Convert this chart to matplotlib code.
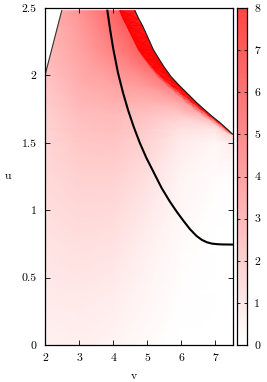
import numpy as np
import matplotlib
matplotlib.use("Agg")
import matplotlib.pyplot as plt
import matplotlib.tri as mtri
from matplotlib.colors import LinearSegmentedColormap, Normalize

plt.rcParams['font.family'] = ['cmr10', 'DejaVu Serif']
plt.rcParams['axes.formatter.use_mathtext'] = True

# ---------------- data ----------------
# smooth part of the heat map, sampled on rows of constant u
row_u = [2.48, 2.37, 2.19, 2.06, 1.92, 1.80, 1.70, 1.60, 1.565, 1.50, 1.25, 1.00, 0.75, 0.50, 0.25, 0.0]
row_v = [
    [2.49, 3.0, 3.5, 3.9, 4.2, 4.64],
    [2.377, 3.0, 3.5, 4.0, 4.4, 4.86],
    [2.194, 3.0, 3.5, 4.0, 4.5, 4.78, 5.18],
    [2.061, 3.0, 3.5, 4.0, 4.5, 5.1, 5.50],
    [2.0, 3.0, 4.0, 4.5, 5.0, 5.5, 5.96],
    [2.0, 3.0, 4.0, 5.0, 5.8, 6.44],
    [2.0, 3.0, 4.0, 5.0, 6.0, 6.885],
    [2.0, 3.0, 4.0, 5.0, 6.0, 7.0, 7.35],
    [2.0, 3.0, 4.0, 5.0, 6.0, 7.0, 7.5],
    [2.0, 3.0, 4.0, 5.0, 6.0, 7.0, 7.5],
    [2.0, 3.0, 4.0, 5.0, 6.0, 7.0, 7.5],
    [2.0, 3.0, 4.0, 5.0, 6.0, 7.0, 7.5],
    [2.0, 3.0, 4.0, 5.0, 6.0, 7.0, 7.5],
    [2.0, 3.0, 4.0, 5.0, 6.0, 7.0, 7.5],
    [2.0, 3.0, 4.0, 5.0, 6.0, 7.0, 7.5],
    [2.0, 3.0, 4.0, 5.0, 6.0, 7.0, 7.5],
]
row_val = [
    [3.8, 4.6, 5.6, 6.4, 7.0, 7.5],
    [3.5, 4.3, 5.2, 6.2, 7.0, 7.5],
    [3.1, 4.0, 4.7, 5.4, 6.2, 6.8, 7.5],
    [2.8, 3.7, 4.2, 4.7, 5.2, 6.3, 7.0],
    [2.4, 3.4, 3.9, 4.1, 4.4, 5.2, 6.0],
    [2.2, 3.1, 3.4, 3.3, 3.6, 5.0],
    [2.0, 2.8, 3.0, 2.6, 2.2, 3.5],
    [1.9, 2.6, 2.8, 2.2, 1.3, 1.2, 2.5],
    [1.85, 2.5, 2.7, 2.1, 1.1, 0.9, 2.0],
    [1.8, 2.4, 2.5, 1.9, 0.9, 0.4, 0.8],
    [1.6, 2.0, 2.0, 1.4, 0.5, 0.15, 0.15],
    [1.4, 1.7, 1.6, 1.0, 0.35, 0.05, 0.0],
    [1.2, 1.4, 1.25, 0.7, 0.2, 0.0, 0.0],
    [1.0, 1.15, 0.95, 0.5, 0.12, 0.0, 0.0],
    [0.8, 0.9, 0.7, 0.35, 0.06, 0.0, 0.0],
    [0.6, 0.7, 0.5, 0.2, 0.03, 0.0, 0.0],
]

# upper-right boundary curve of the domain
bnd_v = [4.64, 4.75, 4.86, 5.02, 5.18, 5.35, 5.50, 5.70, 5.96, 6.20, 6.44, 6.66, 6.885, 7.13, 7.35, 7.5]
bnd_u = [2.48, 2.42, 2.37, 2.28, 2.19, 2.12, 2.06, 1.99, 1.92, 1.86, 1.80, 1.75, 1.70, 1.65, 1.60, 1.565]
# bright red band along that boundary (width in v, soft fade width, strength)
ridge_w = [0.44, 0.45, 0.46, 0.44, 0.42, 0.38, 0.33, 0.27, 0.21, 0.16, 0.12, 0.09, 0.07, 0.05, 0.04, 0.03]
ridge_fade = [0.02, 0.02, 0.02, 0.03, 0.04, 0.06, 0.09, 0.13, 0.16, 0.18, 0.20, 0.20, 0.20, 0.18, 0.15, 0.12]
ridge_a_bnd = [0.55, 0.6, 0.65, 0.75, 0.85, 0.92, 0.97, 1.0, 1.0, 1.0, 1.0, 0.97, 0.95, 0.9, 0.85, 0.8]
ridge_a_in = [0.95, 0.95, 0.95, 0.95, 0.92, 0.88, 0.8, 0.7, 0.6, 0.5, 0.45, 0.4, 0.35, 0.3, 0.25, 0.2]

# left boundary line
left_v = [2.0, 2.49]
left_u = [2.0, 2.48]

# thick middle curve
mid_v = [3.83, 3.91, 4.00, 4.14, 4.29, 4.44, 4.60, 4.78, 4.97, 5.17, 5.42, 5.66, 5.86, 6.05, 6.25,
         6.44, 6.60, 6.75, 6.90, 7.05, 7.20, 7.5]
mid_u = [2.48, 2.34, 2.20, 2.02, 1.87, 1.74, 1.62, 1.50, 1.39, 1.29, 1.165, 1.065, 0.99, 0.925, 0.86,
         0.81, 0.78, 0.762, 0.752, 0.748, 0.746, 0.745]

x_ticks = [2, 3, 4, 5, 6, 7]
y_ticks = [0, 0.5, 1, 1.5, 2, 2.5]
y_ticklabels = ['0', '0.5', '1', '1.5', '2', '2.5']
cb_ticks = [0, 1, 2, 3, 4, 5, 6, 7, 8]

# ---------------- figure ----------------
W, H = 267, 382
fig = plt.figure(figsize=(W / 100, H / 100), dpi=100)

ax_l, ax_r, ax_t, ax_b = 45, 232.5, 8, 345
ax = fig.add_axes([ax_l / W, (H - ax_b) / H, (ax_r - ax_l) / W, (ax_b - ax_t) / H])
cax = fig.add_axes([237 / W, (H - ax_b) / H, 9.7 / W, (ax_b - ax_t) / H])

cmap = LinearSegmentedColormap.from_list('wr', ['#ffffff', '#ff0000'])
norm = Normalize(vmin=0, vmax=11)

# triangulate the rows (zip neighbouring rows together)
xs, ys, zs, rows = [], [], [], []
for u, vs, vals in zip(row_u, row_v, row_val):
    idx = list(range(len(xs), len(xs) + len(vs)))
    xs += vs
    ys += [u] * len(vs)
    zs += vals
    rows.append(idx)
xs = np.array(xs, float); ys = np.array(ys, float); zs = np.array(zs, float)

tris = []
for a, b in zip(rows[:-1], rows[1:]):
    ta = (xs[a] - xs[a[0]]) / (xs[a[-1]] - xs[a[0]])
    tb = (xs[b] - xs[b[0]]) / (xs[b[-1]] - xs[b[0]])
    i = j = 0
    while i < len(a) - 1 or j < len(b) - 1:
        if j == len(b) - 1 or (i < len(a) - 1 and ta[i + 1] <= tb[j + 1]):
            tris.append((a[i], a[i + 1], b[j])); i += 1
        else:
            tris.append((a[i], b[j], b[j + 1])); j += 1
tri = mtri.Triangulation(xs, ys, np.array(tris))
ax.tripcolor(tri, zs, shading='gouraud', cmap=cmap, norm=norm, zorder=1)

# red band along the boundary
bv = np.array(bnd_v); bu = np.array(bnd_u)
rw = np.array(ridge_w); rf = np.array(ridge_fade)
X = np.vstack([bv, bv - rw, bv - rw - rf])
Y = np.vstack([bu, bu, bu])
C = np.vstack([ridge_a_bnd, ridge_a_in, np.zeros_like(bv)])
ov_cmap = LinearSegmentedColormap.from_list('ov', [(1, 0, 0, 0), (1, 0, 0, 1)])
ax.pcolormesh(X, Y, C, shading='gouraud', cmap=ov_cmap, vmin=0, vmax=1, zorder=1.5)

# white outside the domain (upper right)
poly_v = list(bnd_v) + [7.6, 7.6, bnd_v[0]]
poly_u = list(bnd_u) + [bnd_u[-1], 2.6, 2.6]
ax.fill(poly_v, poly_u, color='white', lw=0, zorder=2)

ax.plot(bnd_v, bnd_u, color='#1a1a1a', lw=0.8, zorder=3)
ax.plot(left_v, left_u, color='#333333', lw=0.8, zorder=3)
ax.plot(mid_v, mid_u, color='black', lw=1.5, zorder=4)

ax.set_xlim(2, 7.5)
ax.set_ylim(0, 2.5)
ax.set_xticks(x_ticks)
ax.set_xticklabels([str(t) for t in x_ticks])
ax.set_yticks(y_ticks)
ax.set_yticklabels(y_ticklabels)
ax.tick_params(direction='in', top=True, right=True, length=3.6, width=0.6,
               labelsize=8.5, colors='black')
ax.tick_params(axis='x', pad=6)
ax.tick_params(axis='y', pad=6)
for s in ax.spines.values():
    s.set_linewidth(0.9)
    s.set_zorder(5)

# colour bar
grad = np.linspace(0, 8, 400)[:, None]
cax.imshow(grad, origin='lower', extent=[0, 1, 0, 8], aspect='auto', cmap=cmap, norm=norm)
cax.set_xlim(0, 1); cax.set_ylim(0, 8)
cax.set_xticks([])
cax.set_yticks(cb_ticks)
cax.set_yticklabels([str(t) for t in cb_ticks])
cax.tick_params(axis='y', direction='in', left=True, right=True, labelleft=False,
                labelright=True, length=2.5, width=0.6, labelsize=8.5, pad=5.5)
for s in cax.spines.values():
    s.set_linewidth(0.9)

fig.text(134 / W, 1 - 376 / H, 'v', ha='center', va='center', fontsize=8.5)
fig.text(8 / W, 1 - 176 / H, 'u', ha='center', va='center', fontsize=8.5)

fig.savefig('out.png', dpi=100)
